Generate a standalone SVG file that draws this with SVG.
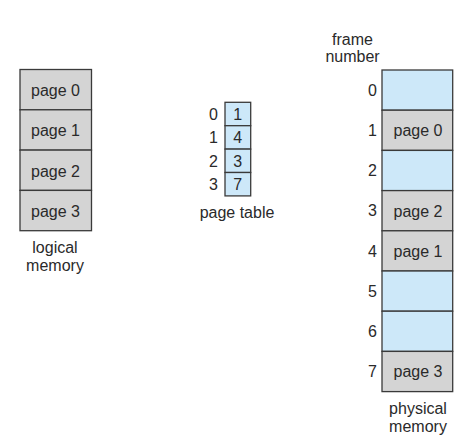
<svg xmlns="http://www.w3.org/2000/svg" width="460" height="443" viewBox="0 0 460 443">
<style>
text{font-family:"Liberation Sans",Arial,sans-serif;font-size:16px;fill:#2a2a2a}
.c{text-anchor:middle}
.r{text-anchor:end}
.g{fill:#d4d4d4;stroke:#3a3a3a;stroke-width:1.3}
.b{fill:#cde8f9;stroke:#3a3a3a;stroke-width:1.3}
</style>
<rect width="460" height="443" fill="#ffffff"/>
<g id="logical-memory">
<rect class="g" x="20" y="69.5" width="71.5" height="40.3"/>
<rect class="g" x="20" y="109.8" width="71.5" height="40.3"/>
<rect class="g" x="20" y="150.1" width="71.5" height="40.3"/>
<rect class="g" x="20" y="190.4" width="71.5" height="40.3"/>
<text class="c" x="55.5" y="96">page 0</text>
<text class="c" x="55.5" y="136">page 1</text>
<text class="c" x="55.5" y="176.5">page 2</text>
<text class="c" x="55.5" y="216.5">page 3</text>
<text class="c" x="55" y="252.5">logical</text>
<text class="c" x="55" y="270.5">memory</text>
</g>
<g id="page-table">
<rect class="b" x="225" y="102.3" width="25.7" height="23.4"/>
<rect class="b" x="225" y="125.7" width="25.7" height="23.4"/>
<rect class="b" x="225" y="149.1" width="25.7" height="23.4"/>
<rect class="b" x="225" y="172.5" width="25.7" height="23.4"/>
<text class="c" x="237.8" y="119.7">1</text>
<text class="c" x="237.8" y="143.1">4</text>
<text class="c" x="237.8" y="166.5">3</text>
<text class="c" x="237.8" y="189.9">7</text>
<text class="r" x="218" y="119.7">0</text>
<text class="r" x="218" y="143.1">1</text>
<text class="r" x="218" y="166.5">2</text>
<text class="r" x="218" y="189.9">3</text>
<text class="c" x="237" y="218">page table</text>
</g>
<g id="physical-memory">
<rect class="b" x="382" y="70" width="70.7" height="40.2"/>
<rect class="g" x="382" y="110.2" width="70.7" height="40.2"/>
<rect class="b" x="382" y="150.4" width="70.7" height="40.2"/>
<rect class="g" x="382" y="190.6" width="70.7" height="40.2"/>
<rect class="g" x="382" y="230.8" width="70.7" height="40.2"/>
<rect class="b" x="382" y="271" width="70.7" height="40.2"/>
<rect class="b" x="382" y="311.2" width="70.7" height="40.2"/>
<rect class="g" x="382" y="351.4" width="70.7" height="40.2"/>
<text class="c" x="418" y="136">page 0</text>
<text class="c" x="418" y="216.5">page 2</text>
<text class="c" x="418" y="256.5">page 1</text>
<text class="c" x="418" y="377">page 3</text>
<text class="r" x="377" y="95.7">0</text>
<text class="r" x="377" y="135.9">1</text>
<text class="r" x="377" y="176.1">2</text>
<text class="r" x="377" y="216.3">3</text>
<text class="r" x="377" y="256.5">4</text>
<text class="r" x="377" y="296.7">5</text>
<text class="r" x="377" y="336.9">6</text>
<text class="r" x="377" y="377.1">7</text>
<text class="c" x="352.5" y="45">frame</text>
<text class="c" x="352.5" y="62">number</text>
<text class="c" x="418" y="413.5">physical</text>
<text class="c" x="418" y="431.5">memory</text>
</g>
<g id="connectors"/>
</svg>
